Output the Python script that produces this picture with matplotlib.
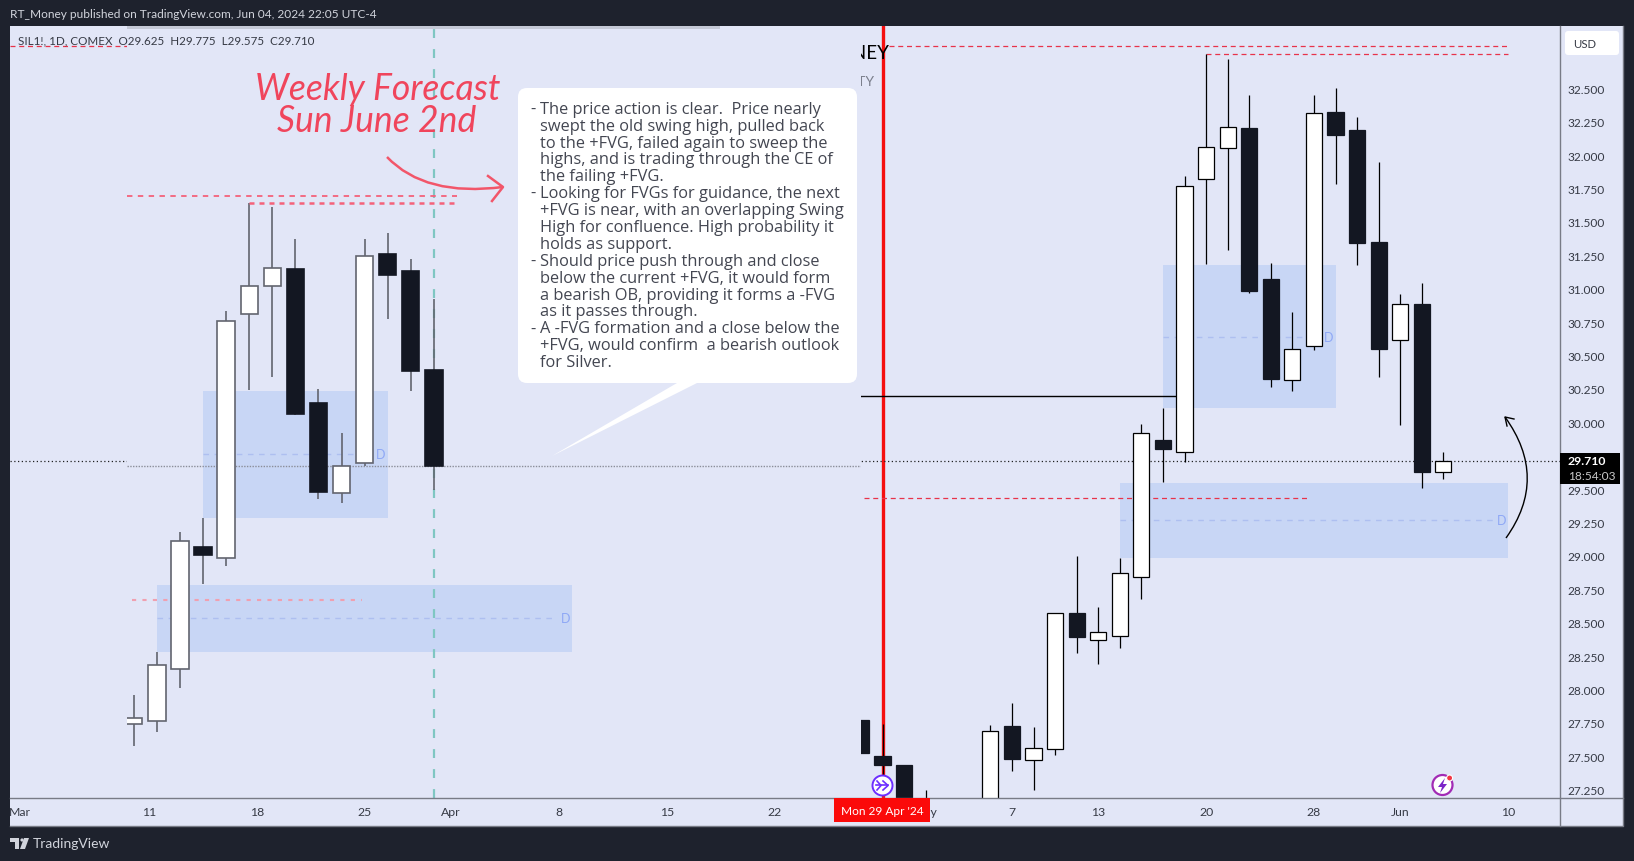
import numpy as np
import matplotlib
matplotlib.use('Agg')
from matplotlib import pyplot as plt
from matplotlib.patches import Rectangle, FancyBboxPatch, Polygon, Circle, PathPatch
from matplotlib.path import Path
from matplotlib.transforms import Affine2D

W, H = 1634, 862

# candles, index 1 is Mon 29 Apr. index 4 and 5 sit below the visible range
bar_index = list(range(0, 28))
opens = [27.772, 27.50, 27.435, 27.10, np.nan, np.nan, 27.00, 27.727, 27.475, 27.552, 28.573, 28.373, 28.403, 28.84,
         29.868, 29.775, 31.823, 32.055, 32.202, 31.072, 30.319, 30.573, 32.322, 32.187, 31.349, 30.618, 30.885, 29.625]
highs = [27.772, 27.742, 27.435, 27.248, np.nan, np.nan, 27.734, 27.90, 27.72, 28.57, 29.0, 28.618, 28.982, 29.987,
         30.104, 31.843, 32.754, 32.719, 32.449, 31.192, 30.825, 32.449, 32.502, 32.285, 31.948, 30.96, 31.042, 29.775]
lows = [27.527, 27.36, 27.0, 27.0, np.nan, np.nan, 27.0, 27.392, 27.248, 27.51, 28.276, 28.191, 28.311, 28.678,
        29.553, 29.705, 31.184, 31.289, 30.97, 30.264, 30.236, 30.541, 31.783, 31.177, 30.339, 29.98, 29.508, 29.575]
closes = [27.527, 27.435, 27.05, 27.02, np.nan, np.nan, 27.687, 27.482, 27.56, 28.57, 28.396, 28.428, 28.87, 29.918,
          29.80, 31.766, 32.058, 32.207, 30.982, 30.324, 30.546, 32.312, 32.15, 31.342, 30.548, 30.883, 29.628, 29.71]

price_ticks = [27.25, 27.5, 27.75, 28.0, 28.25, 28.5, 28.75, 29.0, 29.25, 29.5, 29.75, 30.0,
               30.25, 30.5, 30.75, 31.0, 31.25, 31.5, 31.75, 32.0, 32.25, 32.5]
date_pos = [-39, -33, -28, -23, -19, -14, -9, -4, 3, 7, 11, 16, 21, 25, 30]
date_labels = ['Mar', '11', '18', '25', 'Apr', '8', '15', '22', 'May', '7', '13', '20', '28', 'Jun', '10']

# fair value gaps: first bar, last bar, top, bottom
gap_upper = [14, 22, 31.177, 30.107]
gap_lower = [12, 30, 29.546, 28.984]
swing_high_1 = 32.814
swing_high_2 = 32.754
swing_low = 29.43
last_price = 29.71
left_last_price = 30.548

note_lines = [
    '- The price action is clear.  Price nearly',
    'swept the old swing high, pulled back',
    'to the +FVG, failed again to sweep the',
    'highs, and is trading through the CE of',
    'the failing +FVG.',
    '- Looking for FVGs for guidance, the next',
    '+FVG is near, with an overlapping Swing',
    'High for confluence. High probability it',
    'holds as support.',
    '- Should price push through and close',
    'below the current +FVG, it would form',
    'a bearish OB, providing it forms a -FVG',
    'as it passes through.',
    '- A -FVG formation and a close below the',
    '+FVG, would confirm  a bearish outlook',
    'for Silver.',
]

BG = '#e2e6f7'
FRAME = '#1e222d'
DARK = '#131722'
AXIS = '#787b86'
LABEL = '#363a45'
plt.rcParams['font.family'] = ['Lato', 'DejaVu Sans']


def pane(px):
    # px = left, top, right, bottom in image pixels
    l, t, r, b = px
    return [l / W, 1 - b / H, (r - l) / W, (b - t) / H]


def candles(ax, idx, edge, wick, lw):
    for i in idx:
        if np.isnan(opens[i]):
            continue
        ax.vlines(bar_index[i], lows[i], highs[i], color=wick, lw=lw, zorder=3)
        up = closes[i] >= opens[i]
        ax.bar(bar_index[i], abs(closes[i] - opens[i]), width=0.75, bottom=min(opens[i], closes[i]),
               facecolor='white' if up else DARK, edgecolor=edge if up else DARK, linewidth=lw, zorder=4)


def gaps(ax, d_offset):
    for g in [gap_upper, gap_lower]:
        ax.add_patch(Rectangle((g[0], g[3]), g[1] - g[0], g[2] - g[3], facecolor='#c8d6f5', edgecolor='none', zorder=1))
        mid = (g[2] + g[3]) / 2
        ax.plot([g[0], g[1] - 0.7], [mid, mid], color='#aebff0', lw=1, ls=(0, (4, 4)), zorder=2)
        ax.text(g[1] - d_offset, mid, 'D', color='#8fa8f5', fontsize=9, ha='center', va='center', zorder=2)


fig = plt.figure(figsize=(W / 100, H / 100), dpi=100, facecolor=FRAME)
px_tr = Affine2D().scale(1 / W, -1 / H).translate(0, 1) + fig.transFigure
fig.add_artist(Rectangle((10, 27), 1613, 800, transform=px_tr, facecolor=BG, edgecolor='none', zorder=-1))

# main chart
ax = fig.add_axes(pane((10, 27, 1560.5, 799)), zorder=1)
ax.set_facecolor(BG)
ax.set_xlim(-39.45, 32.43)
ax.set_ylim(27.188, 32.966)
for s in ax.spines.values():
    s.set_visible(False)
ax.yaxis.tick_right()
ax.set_yticks(price_ticks)
ax.set_yticklabels(['%.3f' % p for p in price_ticks], fontsize=8.6, color=LABEL)
ax.set_xticks(date_pos)
ax.set_xticklabels(date_labels, fontsize=8.8, color=LABEL)
ax.tick_params(axis='both', length=0)
ax.tick_params(axis='y', pad=5)
ax.tick_params(axis='x', pad=6)

gaps(ax, 0.3)
candles(ax, range(0, 28), 'black', 'black', 0.9)
ax.axvline(1, color='#f50f0f', lw=2.4, zorder=2)
ax.axhline(last_price, color='#222', lw=0.9, ls=(0, (1, 2)), zorder=2)
ax.plot([-39.45, -34], [swing_high_1, swing_high_1], color='#e8334a', lw=0.9, ls=(0, (4, 3)), zorder=2)
ax.plot([1.3, 30], [swing_high_1, swing_high_1], color='#e8334a', lw=0.9, ls=(0, (4, 3)), zorder=2)
ax.plot([16, 30], [swing_high_2, swing_high_2], color='#e8334a', lw=0.9, ls=(0, (4, 3)), zorder=2)
ax.plot([0.15, 20.7], [swing_low, swing_low], color='#e8334a', lw=0.9, ls=(0, (4, 3)), zorder=2)
ax.plot([-1, 15], [30.2, 30.2], color='black', lw=1, zorder=2)
ax.text(889, 53, 'RT_MONEY', transform=px_tr, fontsize=13.5, color='black', ha='right', va='center', zorder=3)
ax.text(874, 82, 'COMMODITY', transform=px_tr, fontsize=10, color='#7b7f8c', ha='right', va='center', zorder=3)

# pasted older snapshot on the left
left = fig.add_axes(pane((127, 27, 861, 799)), zorder=2)
left.set_facecolor(BG)
left.set_xlim(10.705, 42.5)
left.set_ylim(27.755, 34.242)
left.set_xticks([])
left.set_yticks([])
for s in left.spines.values():
    s.set_visible(False)
gaps(left, 0.3)
candles(left, range(11, 25), '#62656f', '#62656f', 1.2)
left.axhline(left_last_price, color='#8b8e99', lw=1, ls=(0, (1, 1)), zorder=2)
left.axvline(24, color='#7fc6c2', lw=1.6, ls=(0, (4, 5)), zorder=2)
left.plot([10.7, 25], [swing_high_1, swing_high_1], color='#f4627a', lw=1.3, ls=(0, (3, 3)), zorder=5)
left.plot([16, 25], [swing_high_2, swing_high_2], color='#f4627a', lw=1.8, ls=(0, (2, 2)), zorder=5)
left.plot([10.9, 20.9], [29.42, 29.42], color='#f0a0b0', lw=1.5, ls=(0, (2, 3)), zorder=2)

# annotations and chrome in image pixels
ui = fig.add_axes([0, 0, 1, 1], zorder=3)
ui.set_xlim(0, W)
ui.set_ylim(H, 0)
ui.axis('off')

ui.add_patch(Rectangle((127, 27), 593, 3, facecolor='#c4c8d6', edgecolor='none'))
ui.plot([10, 1623, 1623], [827, 827, 27], color=AXIS, lw=1)
ui.plot([10, 1623], [799, 799], color=AXIS, lw=1)
ui.plot([1560.5, 1560.5], [27, 827], color=AXIS, lw=1)

ui.text(10, 15, 'RT_Money published on TradingView.com, Jun 04, 2024 22:05 UTC-4', fontsize=8.55, color='#d1d4dc', va='center')
ui.text(18, 41, 'SIL1!, 1D, COMEX  O29.625  H29.775  L29.575  C29.710', fontsize=8.4, color=LABEL, va='center')
ui.text(33, 844, 'TradingView', fontsize=10, color='#d1d4dc', va='center')
ui.add_patch(Polygon([(10, 839), (19, 839), (19, 850), (15, 850), (15, 843), (10, 843)], facecolor='#d1d4dc', edgecolor='none'))
ui.add_patch(Polygon([(24, 839), (29, 839), (25, 850), (20, 850)], facecolor='#d1d4dc', edgecolor='none'))
ui.add_patch(Circle((22, 841), 1.6, facecolor='#d1d4dc', edgecolor='none'))

# title and its arrow
ui.text(378, 89, 'Weekly Forecast', fontsize=25.6, style='italic', color='#f0455c', ha='center', va='center')
ui.text(377, 122, 'Sun June 2nd', fontsize=25.6, style='italic', color='#f0455c', ha='center', va='center')
ui.add_patch(PathPatch(Path([(387, 158), (425, 198), (503, 188)], [Path.MOVETO, Path.CURVE3, Path.CURVE3]),
                       facecolor='none', edgecolor='#f2566a', lw=1.8))
ui.plot([488, 503, 492], [177, 188, 202], color='#f2566a', lw=1.8)

# callout
ui.add_patch(Polygon([(552, 457), (677, 384), (697, 384)], facecolor='white', edgecolor='none'))
ui.add_patch(FancyBboxPatch((518, 89), 339, 295, boxstyle='round,pad=0,rounding_size=9',
                            facecolor='white', edgecolor='none'))
for n, line in enumerate(note_lines):
    y = 109.7 + 16.9 * n
    if line.startswith('- '):
        ui.text(530, y, '-', fontsize=11.75, color='#434651', va='center', family='Open Sans')
        line = line[2:]
    ui.text(540, y, line, fontsize=11.75, color='#434651', va='center', family='Open Sans')

# black curved arrow
ui.add_patch(PathPatch(Path([(1506, 539), (1549, 479), (1505, 418)], [Path.MOVETO, Path.CURVE3, Path.CURVE3]),
                       facecolor='none', edgecolor='black', lw=1))
ui.plot([1507, 1505, 1514], [427, 418, 420], color='black', lw=1)

# price axis widgets
ui.add_patch(FancyBboxPatch((1567, 34), 50, 20, boxstyle='round,pad=2,rounding_size=3', facecolor='white', edgecolor='none'))
ui.text(1573, 44, 'USD', fontsize=8.2, color=LABEL, va='center')
ui.add_patch(Rectangle((1560.5, 454), 59.5, 31, facecolor='black', edgecolor='none', zorder=5))
ui.text(1568, 462, '29.710', fontsize=8.8, weight='bold', color='white', ha='left', va='center', zorder=6)
ui.text(1568, 476.5, '18:54:03', fontsize=8.6, color='#c8c8c8', ha='left', va='center', zorder=6)

# crosshair date label
ui.add_patch(Rectangle((834, 799), 96, 24, facecolor='#fb0a0a', edgecolor='none', zorder=5))
ui.text(882, 812, "Mon 29 Apr '24", fontsize=8.6, color='white', ha='center', va='center', zorder=6)

# icons
ui.add_patch(Circle((882.5, 786.5), 10, facecolor='white', edgecolor='#6d2eff', lw=1.4, zorder=5))
ui.plot([876, 888], [786.5, 786.5], color='#6d2eff', lw=1.2, zorder=6)
ui.plot([883, 888, 883], [782, 786.5, 791], color='#6d2eff', lw=1.2, zorder=6)
ui.plot([877, 881, 877], [782, 786.5, 791], color='#6d2eff', lw=1.2, zorder=6)
ui.add_patch(Circle((1442.5, 786), 10, facecolor='white', edgecolor='#a22bb5', lw=1.6, zorder=5))
ui.add_patch(Polygon([(1445, 779), (1438, 788), (1442, 788), (1440, 794), (1447, 785), (1443, 785)],
                     facecolor='#7b24c8', edgecolor='none', zorder=6))
ui.add_patch(Circle((1449.6, 779), 3, facecolor='#f23645', edgecolor='white', lw=0.8, zorder=6))

plt.savefig('out.png', dpi=100, facecolor=FRAME)
